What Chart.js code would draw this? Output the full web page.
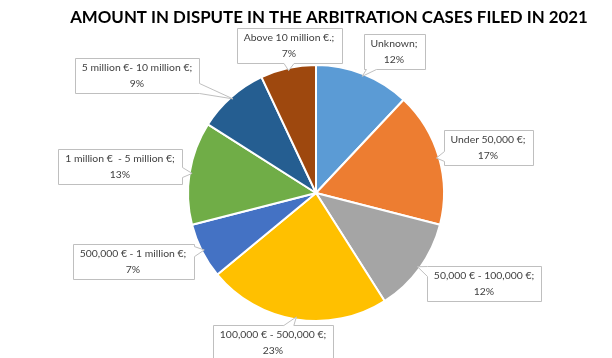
<!DOCTYPE html>
<html><head><meta charset="utf-8">
<script src="https://cdn.jsdelivr.net/npm/chart.js@4/dist/chart.umd.min.js"></script>
<style>html,body{margin:0;padding:0;background:#fff}#wrap{width:612px;height:358px;position:relative}</style>
</head><body><div id="wrap"><canvas id="c" width="612" height="358"></canvas></div>
<script>
const chartTitle = 'AMOUNT IN DISPUTE IN THE ARBITRATION CASES FILED IN 2021';
const categories = ['Unknown', 'Under 50,000 €', '50,000 € - 100,000 €', '100,000 € - 500,000 €', '500,000 € - 1 million €', '1 million €  - 5 million €', '5 million €- 10 million €', 'Above 10 million €.'];
const shares = [12, 17, 12, 23, 7, 13, 9, 7];
const sliceColors = ['#5B9BD5', '#ED7D31', '#A5A5A5', '#FFC000', '#4472C4', '#70AD47', '#255E91', '#9E480E'];
// callout box centres, offset from the pie centre (layout only)
const calloutOffsets = [[78,-142],[172,-46],[168,90],[-43,149],[-183,68],[-196,-27],[-179,-118],[-27,-148]];

const LABEL_FONT = '10.4px Lato';
const TEXT_COLOR = '#404040';

function calloutPath(ctx, x0, y0, w, h, tx, ty) {
  const x1 = x0 + w, y1 = y0 + h, cx = x0 + w/2, cy = y0 + h/2;
  const dx = tx - cx, dy = ty - cy;
  const inside = tx >= x0 && tx <= x1 && ty >= y0 && ty <= y1;
  const sx = dx !== 0 ? (w/2)/Math.abs(dx) : Infinity;
  const sy = dy !== 0 ? (h/2)/Math.abs(dy) : Infinity;
  let edge = null, px, py;
  if (!inside) {
    if (sx < sy) { edge = dx > 0 ? 'right' : 'left'; px = cx + dx*sx; py = cy + dy*sx; }
    else { edge = dy > 0 ? 'bottom' : 'top'; px = cx + dx*sy; py = cy + dy*sy; }
  }
  const hw = 5;
  const clx = v => Math.min(Math.max(v, x0 + hw), x1 - hw);
  const cly = v => Math.min(Math.max(v, y0 + hw), y1 - hw);
  ctx.beginPath();
  ctx.moveTo(x0, y0);
  if (edge === 'top') { const p = clx(px); ctx.lineTo(p - hw, y0); ctx.lineTo(tx, ty); ctx.lineTo(p + hw, y0); }
  ctx.lineTo(x1, y0);
  if (edge === 'right') { const p = cly(py); ctx.lineTo(x1, p - hw); ctx.lineTo(tx, ty); ctx.lineTo(x1, p + hw); }
  ctx.lineTo(x1, y1);
  if (edge === 'bottom') { const p = clx(px); ctx.lineTo(p + hw, y1); ctx.lineTo(tx, ty); ctx.lineTo(p - hw, y1); }
  ctx.lineTo(x0, y1);
  if (edge === 'left') { const p = cly(py); ctx.lineTo(x0, p + hw); ctx.lineTo(tx, ty); ctx.lineTo(x0, p - hw); }
  ctx.closePath();
}

const calloutPlugin = {
  id: 'callouts',
  afterDraw(chart) {
    const ctx = chart.ctx;
    const meta = chart.getDatasetMeta(0);
    ctx.save();
    // title
    ctx.font = 'bold 18px Lato';
    let tw = ctx.measureText(chartTitle).width;
    const size = 18 * 518 / tw;
    ctx.font = 'bold ' + size.toFixed(2) + 'px Lato';
    ctx.fillStyle = '#000';
    ctx.textAlign = 'center';
    ctx.textBaseline = 'middle';
    ctx.fillText(chartTitle, 329, 18);

    ctx.font = LABEL_FONT;
    meta.data.forEach((arc, i) => {
      const cx = arc.x, cy = arc.y, r = arc.outerRadius;
      const mid = (arc.startAngle + arc.endAngle) / 2;
      const tx = cx + Math.cos(mid) * r * 0.98;
      const ty = cy + Math.sin(mid) * r * 0.98;
      const lines = [categories[i] + ';', shares[i] + '%'];
      const w = Math.max(...lines.map(l => ctx.measureText(l).width)) + 14;
      const h = 35;
      const bx = cx + calloutOffsets[i][0] - w/2;
      const by = cy + calloutOffsets[i][1] - h/2;
      calloutPath(ctx, Math.round(bx) + 0.5, Math.round(by) + 0.5, Math.round(w), h, tx, ty);
      ctx.fillStyle = '#fff';
      ctx.fill();
      ctx.strokeStyle = '#BFBFBF';
      ctx.lineWidth = 1;
      ctx.stroke();
      ctx.fillStyle = TEXT_COLOR;
      ctx.textAlign = 'center';
      ctx.textBaseline = 'middle';
      ctx.fillText(lines[0], bx + w/2, by + 10.5);
      ctx.fillText(lines[1], bx + w/2, by + 26);
    });
    ctx.restore();
  }
};

new Chart(document.getElementById('c'), {
  type: 'pie',
  data: {
    labels: categories,
    datasets: [{ data: shares, backgroundColor: sliceColors, borderColor: '#fff', borderWidth: 2 }]
  },
  options: {
    responsive: false,
    devicePixelRatio: 1,
    animation: false,
    layout: { padding: { top: 64, bottom: 36, left: 187, right: 167 } },
    plugins: { legend: { display: false }, title: { display: false }, tooltip: { enabled: false } }
  },
  plugins: [calloutPlugin]
});
</script></body></html>
